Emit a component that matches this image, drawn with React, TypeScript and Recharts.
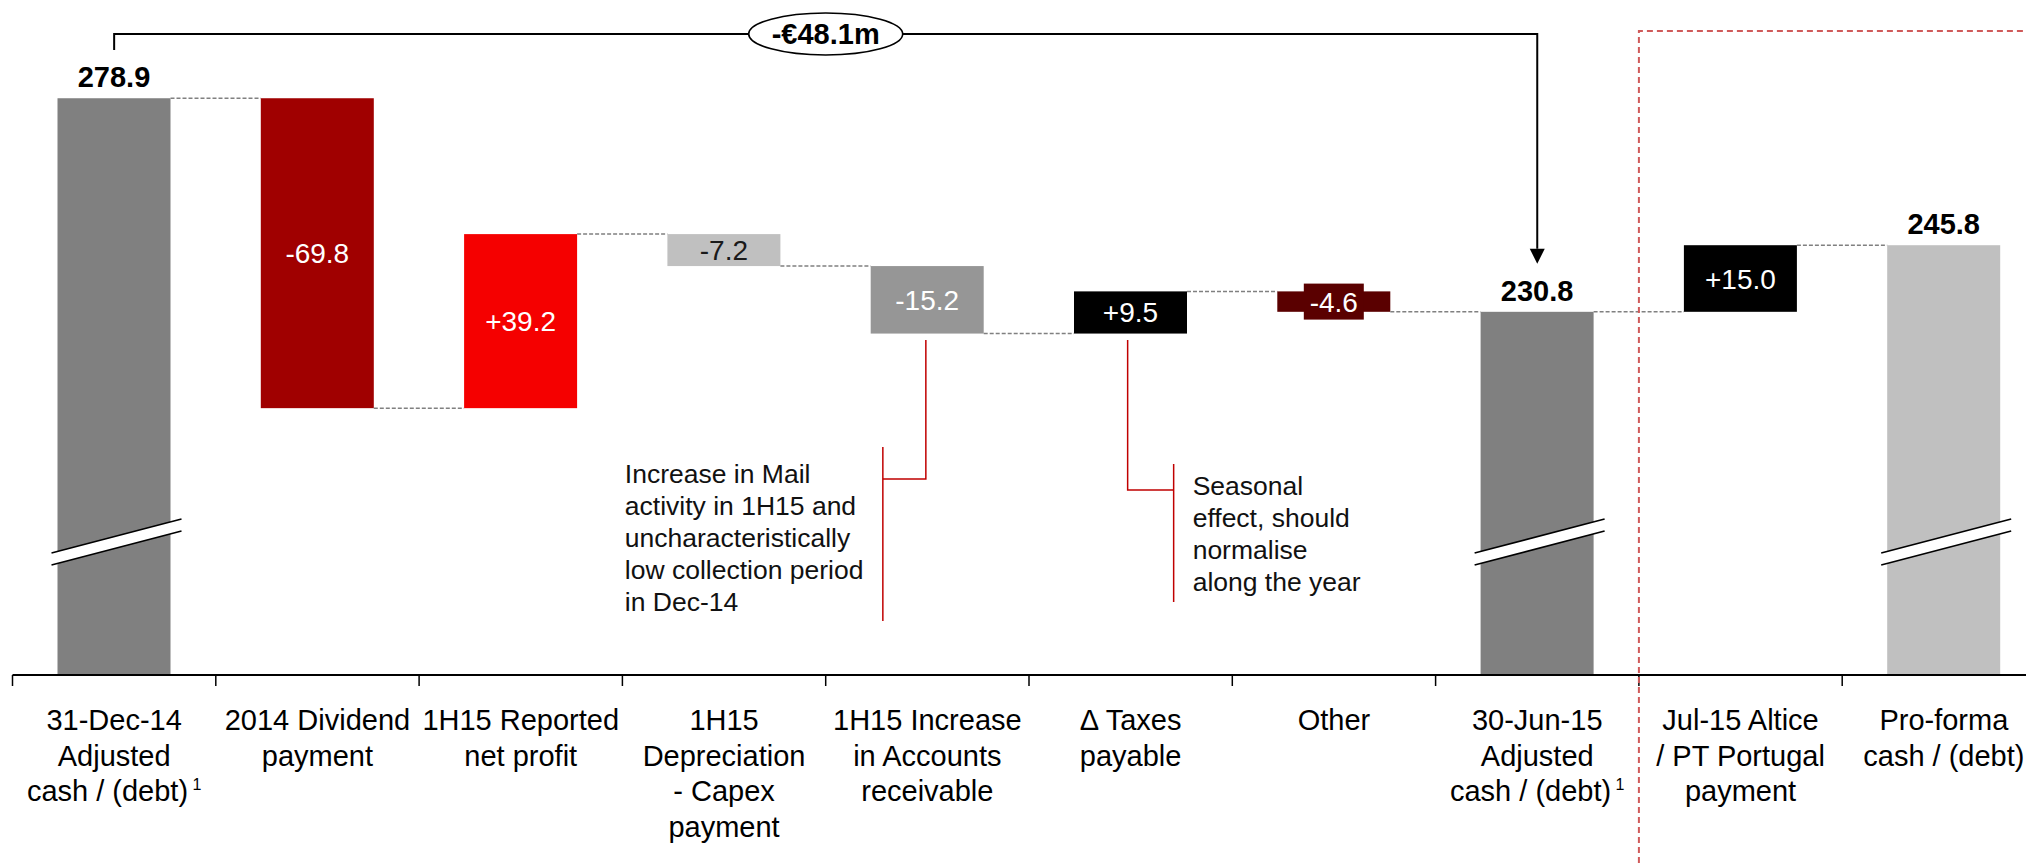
import { Bar, BarChart, XAxis, YAxis } from "recharts";

const FONT = '"Liberation Sans", Arial, Helvetica, sans-serif';

// Cash bridge, €m. Totals are drawn from the (broken) axis, deltas float.
const categories = [
  "31-Dec-14\nAdjusted\ncash / (debt)",
  "2014 Dividend\npayment",
  "1H15 Reported\nnet profit",
  "1H15\nDepreciation\n- Capex\npayment",
  "1H15 Increase\nin Accounts\nreceivable",
  "Δ Taxes\npayable",
  "Other",
  "30-Jun-15\nAdjusted\ncash / (debt)",
  "Jul-15 Altice\n/ PT Portugal\npayment",
  "Pro-forma\ncash / (debt)",
];
const footnoteMarks = ["1", "", "", "", "", "", "", "1", "", ""];
const amounts = [278.9, -69.8, 39.2, -7.2, -15.2, 9.5, -4.6, 230.8, 15.0, 245.8];
const isTotal = [true, false, false, false, false, false, false, true, false, true];

const mailNote = [
  "Increase in Mail",
  "activity in 1H15 and",
  "uncharacteristically",
  "low collection period",
  "in Dec-14",
];
const taxNote = ["Seasonal", "effect, should", "normalise", "along the year"];
const bridgeLabel = "-€48.1m";

const barColors = [
  "#808080", "#A00000", "#F50000", "#C0C0C0", "#969696",
  "#000000", "#5A0000", "#808080", "#000000", "#C0C0C0",
];
const valueColors = ["#000", "#fff", "#fff", "#1a1a1a", "#fff", "#fff", "#fff", "#000", "#fff", "#000"];

// layout
const WIDTH = 2026;
const HEIGHT = 863;
const CHART_W = 2060; // the last category runs off the right edge, as in the slide
const PLOT_LEFT = 12.5;
const BAND = 203.3;
const PLOT_RIGHT = PLOT_LEFT + BAND * categories.length;
const PLOT_TOP = 9;
const AXIS_Y = 675;
const Y_MIN = 149;
const Y_MAX = 299;
const BAR_SIZE = 113;

const bandCenter = (i: number) => PLOT_LEFT + BAND * (i + 0.5);
const yPx = (v: number) => AXIS_Y - ((v - Y_MIN) * (AXIS_Y - PLOT_TOP)) / (Y_MAX - Y_MIN);

let running = 0;
const rows = categories.map((name, i) => {
  const v = amounts[i];
  if (isTotal[i]) {
    running = v;
    return { name, range: [Y_MIN, v] };
  }
  const start = running;
  running += v;
  return { name, range: [Math.min(start, running), Math.max(start, running)] };
});

function formatDelta(v: number) {
  return (v > 0 ? "+" : "") + v.toFixed(1);
}

function WaterfallBar(props: any) {
  const { x, y, width, height, payload } = props;
  const i = categories.indexOf(payload.name);
  const v = amounts[i];
  const cx = x + width / 2;
  const cy = y + height / 2;
  const endY = isTotal[i] || v > 0 ? y : y + height;

  let breakMark = null;
  if (isTotal[i]) {
    const x0 = x - 6;
    const x1 = x + width + 11;
    const y0 = 553;
    const rise = 34;
    const gap = 12;
    breakMark = (
      <g>
        <polygon points={`${x0},${y0} ${x1},${y0 - rise} ${x1},${y0 - rise + gap} ${x0},${y0 + gap}`} fill="#fff" />
        <line x1={x0} y1={y0} x2={x1} y2={y0 - rise} stroke="#000" strokeWidth={1.6} />
        <line x1={x0} y1={y0 + gap} x2={x1} y2={y0 - rise + gap} stroke="#000" strokeWidth={1.6} />
      </g>
    );
  }

  const small = !isTotal[i] && height < 26;

  return (
    <g>
      <rect x={x} y={y} width={width} height={height} fill={barColors[i]} />
      {breakMark}
      {i < categories.length - 1 && (
        <line x1={x + width} x2={x + BAND} y1={endY} y2={endY} stroke="#808080" strokeWidth={1.5} strokeDasharray="4 2" />
      )}
      {isTotal[i] ? (
        <text x={cx} y={y - 11} textAnchor="middle" fontFamily={FONT} fontWeight="bold" fontSize={29} fill="#000">
          {v.toFixed(1)}
        </text>
      ) : (
        <g>
          {small && <rect x={cx - 30} y={cy - 18} width={60} height={36} fill={barColors[i]} />}
          <text x={cx} y={cy + 10} textAnchor="middle" fontFamily={FONT} fontSize={28} fill={valueColors[i]}>
            {formatDelta(v)}
          </text>
        </g>
      )}
    </g>
  );
}

function CategoryTick(props: any) {
  const { x, payload } = props;
  const i = categories.indexOf(payload.value);
  const lines = String(payload.value).split("\n");
  const mark = footnoteMarks[i];
  const left = x - BAND / 2;
  return (
    <g>
      <line x1={left} x2={left} y1={AXIS_Y} y2={AXIS_Y + 11} stroke="#000" strokeWidth={1.5} />
      <text textAnchor="middle" fontFamily={FONT} fontSize={29} fill="#000">
        {lines.map((line, k) => (
          <tspan key={k} x={x} y={AXIS_Y + 55 + k * 35.5}>
            {line}
            {k === lines.length - 1 && mark ? (
              <tspan fontSize={16} dy={-11}>
                {" " + mark}
              </tspan>
            ) : null}
          </tspan>
        ))}
      </text>
    </g>
  );
}

function Note({ lines, x, y }: { lines: string[]; x: number; y: number }) {
  return (
    <text fontFamily={FONT} fontSize={26.5} fill="#111">
      {lines.map((line, k) => (
        <tspan key={k} x={x} y={y + k * 32}>
          {line}
        </tspan>
      ))}
    </text>
  );
}

function Annotations() {
  const startX = bandCenter(0);
  const endX = bandCenter(7);
  const bridgeY = 34;
  const arrowTip = yPx(amounts[7]) - 48;
  const ovalX = (bandCenter(3) + bandCenter(4)) / 2;
  const splitX = PLOT_LEFT + BAND * 8;
  const noteRed = "#C00000";

  const mailX = bandCenter(4) - 1.5;
  const taxX = bandCenter(5) - 3;

  return (
    <svg width={WIDTH} height={HEIGHT} style={{ position: "absolute", left: 0, top: 0, pointerEvents: "none" }}>
      {/* pro-forma area */}
      <path d={`M${splitX},${HEIGHT} V31 H${WIDTH}`} fill="none" stroke="#D05A5A" strokeWidth={2} strokeDasharray="6 4" />

      {/* overall change bracket */}
      <path d={`M${startX},50 V${bridgeY} H${endX} V${arrowTip - 15}`} fill="none" stroke="#000" strokeWidth={2} />
      <polygon points={`${endX - 7.5},${arrowTip - 15} ${endX + 7.5},${arrowTip - 15} ${endX},${arrowTip}`} fill="#000" />
      <ellipse cx={ovalX} cy={bridgeY} rx={77} ry={21} fill="#fff" stroke="#000" strokeWidth={1.6} />
      <text x={ovalX} y={bridgeY + 10} textAnchor="middle" fontFamily={FONT} fontWeight="bold" fontSize={29} fill="#000">
        {bridgeLabel}
      </text>

      {/* receivables note */}
      <path d={`M${mailX},340 V479 H${mailX - 43}`} fill="none" stroke={noteRed} strokeWidth={1.5} />
      <line x1={mailX - 43} x2={mailX - 43} y1={447} y2={621} stroke={noteRed} strokeWidth={1.5} />
      <Note lines={mailNote} x={mailX - 301} y={483} />

      {/* taxes note */}
      <path d={`M${taxX},340 V490 H${taxX + 46}`} fill="none" stroke={noteRed} strokeWidth={1.5} />
      <line x1={taxX + 46} x2={taxX + 46} y1={464} y2={602} stroke={noteRed} strokeWidth={1.5} />
      <Note lines={taxNote} x={taxX + 65} y={495} />
    </svg>
  );
}

export default function App() {
  return (
    <div
      style={{
        position: "absolute",
        left: 0,
        top: 0,
        width: WIDTH,
        height: HEIGHT,
        overflow: "hidden",
        background: "#fff",
        fontFamily: FONT,
      }}
    >
      <BarChart
        width={CHART_W}
        height={HEIGHT}
        data={rows}
        barSize={BAR_SIZE}
        margin={{ top: PLOT_TOP, right: CHART_W - PLOT_RIGHT, bottom: 0, left: PLOT_LEFT }}
      >
        <XAxis
          dataKey="name"
          interval={0}
          tickLine={false}
          axisLine={{ stroke: "#000", strokeWidth: 2 }}
          height={HEIGHT - AXIS_Y}
          tick={CategoryTick}
        />
        <YAxis hide domain={[Y_MIN, Y_MAX]} allowDataOverflow />
        <Bar dataKey="range" isAnimationActive={false} shape={WaterfallBar} />
      </BarChart>
      <Annotations />
    </div>
  );
}
